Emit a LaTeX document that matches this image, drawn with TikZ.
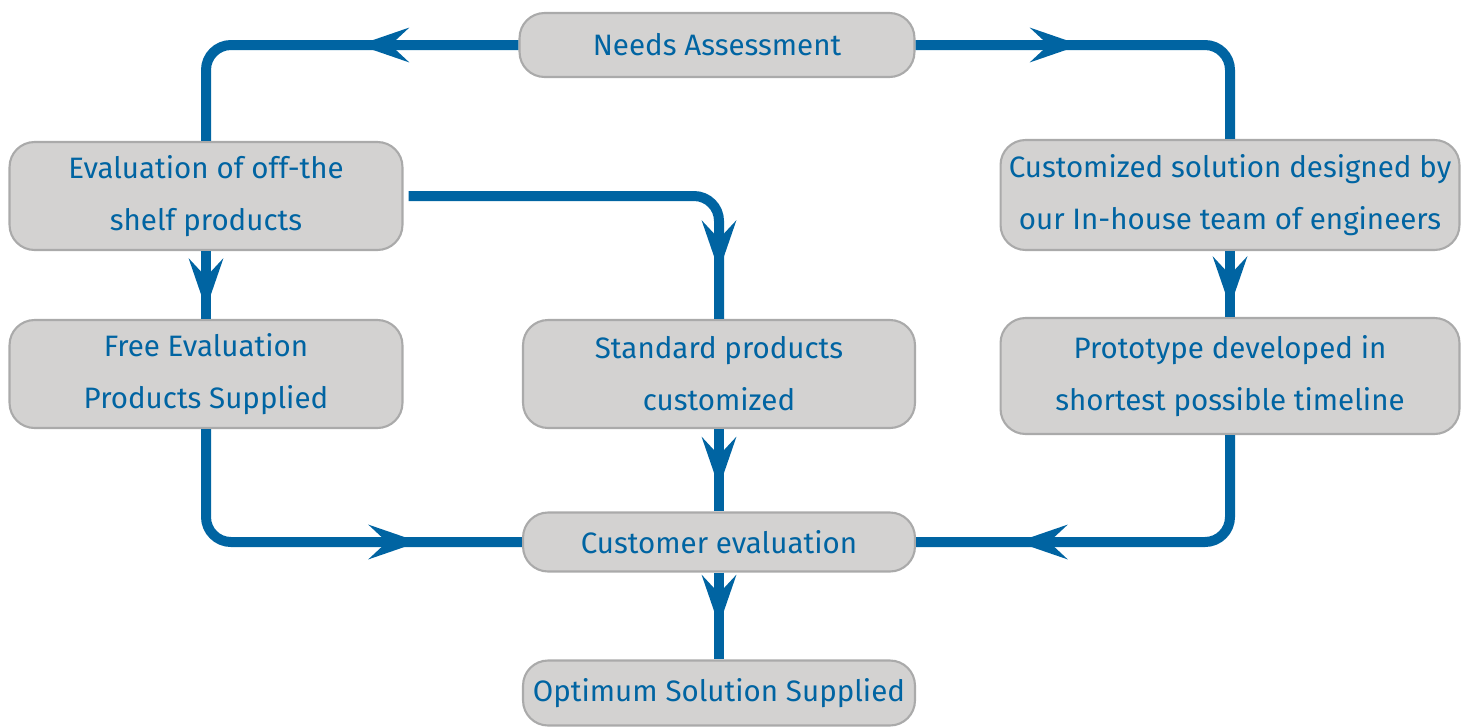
\documentclass[tikz,border=0pt]{standalone}
\usepackage{fontspec}
\setmainfont{Fira Sans}
\usepackage{xcolor}
\usetikzlibrary{arrows.meta, positioning, calc, decorations.markings}

\definecolor{flowblue}{RGB}{0,100,162}
\definecolor{boxgray}{RGB}{211,210,209}
\definecolor{edgegray}{RGB}{170,170,170}

\tikzset{flowtip/.tip={Stealth[length=1cm, width=0.68cm, inset=0.36cm]}}

\begin{document}
\begin{tikzpicture}[
    x=0.02cm, y=-0.02cm,
    % Node styles
    box/.style={rectangle, rounded corners=0.5cm, draw=edgegray, line width=1.2pt, fill=boxgray, text=flowblue, align=center, inner sep=0pt, minimum width=7.86cm, minimum height=2.16cm, font=\fontsize{16.8}{29.5}\selectfont},
    widebox/.style={box, minimum width=9.18cm, minimum height=2.2cm},
    flatbox/.style={box, minimum height=1.2cm},
    % Connector styles
    flow/.style={draw=flowblue, line width=0.2cm, rounded corners=0.5cm},
    tipat/.style={postaction={decorate}, decoration={markings, mark=at position #1 with {\arrow{flowtip}}}}
]
\useasboundingbox (0,0) rectangle (1467,727);

% Top
\node[flatbox, minimum width=7.9cm, minimum height=1.28cm] (needs) at (717,45) {Needs Assessment};

% Left column
\node[box] (offshelf) at (206,196) {Evaluation of off-the\\shelf products};
\node[box] (freeeval) at (206,374) {Free Evaluation\\Products Supplied};

% Middle column
\node[box, minimum width=7.84cm] (standard) at (719,374) {Standard products\\customized};
\node[flatbox, minimum width=7.84cm, minimum height=1.18cm] (custeval) at (719,542) {Customer evaluation};
\node[flatbox, minimum width=7.84cm, minimum height=1.3cm] (optimum) at (719,693) {Optimum Solution Supplied};

% Right column
\node[widebox] (customized) at (1230,195) {Customized solution designed by\\our In-house team of engineers};
\node[widebox, minimum height=2.32cm] (prototype) at (1230,376) {Prototype developed in\\shortest possible timeline};

% Connectors
\draw[flow, tipat=3.2cm] (needs.west) -| (offshelf.north);
\draw[flow, tipat=3.3cm] (needs.east) -| (customized.north);
\draw[flow, tipat=-0.96cm, shorten <=0.1cm] (offshelf.east) -| (standard.north);
\draw[flow, tipat=-0.2cm] (offshelf.south) -- (freeeval.north);
\draw[flow, tipat=-0.2cm] (customized.south) -- (prototype.north);
\draw[flow, tipat=-0.48cm] (standard.south) -- (custeval.north);
\draw[flow, tipat=-0.68cm] (custeval.south) -- (optimum.north);
\draw[flow, tipat=-2.06cm] (freeeval.south) |- (custeval.west);
\draw[flow, tipat=-2.02cm] (prototype.south) |- (custeval.east);

\end{tikzpicture}
\end{document}
